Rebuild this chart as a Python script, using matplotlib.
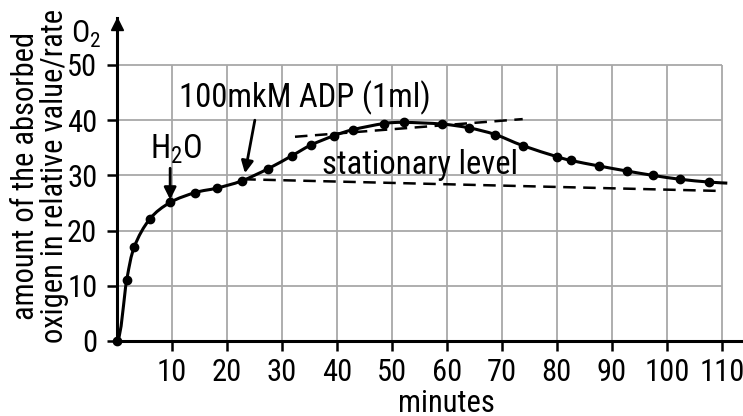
import numpy as np
import matplotlib
matplotlib.use("Agg")
import matplotlib.pyplot as plt
from matplotlib.path import Path
from matplotlib.patches import PathPatch
from matplotlib import font_manager as fm

# ---------------- data ----------------
minutes = [0, 1.8, 3.2, 6.0, 9.7, 14.3, 18.2, 22.7, 27.5, 31.9, 35.3, 39.5, 43.0,
           48.6, 52.3, 59.1, 64.1, 68.8, 73.8, 80.0, 82.6, 87.7, 92.7, 97.5,
           102.4, 107.6]
oxygen = [0, 11.05, 17.1, 22.1, 25.1, 26.9, 27.7, 29.0, 31.2, 33.6, 35.5, 37.2,
          38.3, 39.4, 39.6, 39.3, 38.6, 37.4, 35.4, 33.4, 32.7, 31.7, 30.8, 30.0,
          29.3, 28.8]
curve_end = (111.0, 28.6)           # where the drawn curve stops (no dot)

tangent_x = [32.4, 73.8]             # upper dashed tangent
tangent_y = [37.0, 40.2]
stationary_x = [23.0, 109.0]         # "stationary level" dashed line
stationary_y = [29.3, 27.2]

x_ticks = [10, 20, 30, 40, 50, 60, 70, 80, 90, 100, 110]
y_ticks = [0, 10, 20, 30, 40, 50]

# ---------------- fonts ----------------
names = {f.name for f in fm.fontManager.ttflist}
stretch = "normal"
main_font = None
for cand in ["Liberation Sans Narrow", "Arial Narrow", "Roboto Condensed",
             "Open Sans Condensed", "Noto Sans Condensed"]:
    if cand in names:
        main_font = cand
        break
if main_font is None:
    cond = [f for f in fm.fontManager.ttflist
            if f.name in ("Noto Sans", "Roboto", "Open Sans") and
            str(f.stretch) in ("condensed", "semi-condensed", "extra-condensed", "75", "87")]
    if cond:
        main_font = cond[0].name
        stretch = cond[0].stretch
    else:
        main_font = "Liberation Sans"
narrow = main_font != "Liberation Sans"
plt.rcParams["font.family"] = [main_font, "DejaVu Sans"]
plt.rcParams["font.stretch"] = stretch
plt.rcParams["mathtext.fontset"] = "custom"
plt.rcParams["mathtext.rm"] = main_font
FS = 22 if narrow else 18          # tick labels
FA = 23.5 if narrow else 19        # annotations
FL = 22 if narrow else 17          # y-axis title

W, H = 743, 416
fig = plt.figure(figsize=(W / 100, H / 100), dpi=100)
x0_px, y0_px = 116.8, 341.0
px_x, px_y = 5.5, 5.52
top_px = 18
ax = fig.add_axes([x0_px / W, (H - y0_px) / H, (W - x0_px) / W, (y0_px - top_px) / H])
xmax = (W - x0_px) / px_x
ymax = (y0_px - top_px) / px_y
ax.set_xlim(0, xmax)
ax.set_ylim(0, ymax)

# grid limited to the 0..110 x 0..50 box
grid_c = "#a8a8a8"
ax.vlines(x_ticks, 0, 50, colors=grid_c, lw=1.3, zorder=1)
ax.hlines(y_ticks[1:], 0, 110, colors=grid_c, lw=1.3, zorder=1)

for s in ["top", "right"]:
    ax.spines[s].set_visible(False)
for s in ["left", "bottom"]:
    ax.spines[s].set_linewidth(2.2)
    ax.spines[s].set_zorder(4)

ax.set_xticks(x_ticks)
ax.set_yticks(y_ticks)
ax.tick_params(direction="out", length=7, width=1.8, labelsize=FS, pad=5)
ax.tick_params(axis="y", pad=7)

# arrow head on y axis
ax.plot([0], [ymax - 1.0], marker="^", ms=8, color="k", clip_on=False, zorder=5)

# smooth curve through points (Catmull-Rom converted to cubic Bezier)
px = list(minutes) + [curve_end[0]]
py = list(oxygen) + [curve_end[1]]
P = np.column_stack([px, py]).astype(float)
n = len(P)
verts = [tuple(P[0])]
codes = [Path.MOVETO]
for i in range(n - 1):
    p0 = P[i - 1] if i > 0 else P[i]
    p1, p2 = P[i], P[i + 1]
    p3 = P[i + 2] if i + 2 < n else P[i + 1]
    if i == 0:
        c1 = p1 + np.array([0.8, 0.0])
    else:
        c1 = p1 + (p2 - p0) / 6.0
    c2 = p2 - (p3 - p1) / 6.0
    verts += [tuple(c1), tuple(c2), tuple(p2)]
    codes += [Path.CURVE4] * 3
ax.add_patch(PathPatch(Path(verts, codes), fill=False, lw=2.2, ec="k", zorder=3))
ax.plot(minutes, oxygen, "o", color="k", ms=6, zorder=4, clip_on=False)

# dashed lines
ax.plot(tangent_x, tangent_y, ls=(0, (5, 3)), color="k", lw=1.8, zorder=3)
ax.plot(stationary_x, stationary_y, ls=(0, (5, 3)), color="k", lw=1.8, zorder=3)

# annotations
arrow = dict(arrowstyle="-|>", lw=2.0, color="k", mutation_scale=18, shrinkA=0, shrinkB=0)
ax.annotate("", xy=(9.7, 25.6), xytext=(9.7, 31.3), arrowprops=arrow, zorder=5)
ax.text(6.0, 34.8, r"H$_\mathregular{2}$O", fontsize=FA, ha="left", va="center")
ax.annotate("", xy=(23.3, 30.4), xytext=(25.1, 40.0), arrowprops=arrow, zorder=5)
ax.text(11.3, 44.0, "100mkM ADP (1ml)", fontsize=FA, ha="left", va="center")
ax.text(37.3, 31.9, "stationary level", fontsize=FA, ha="left", va="center")

# axis titles
fig.text(71 / W, 1 - 43 / H, r"O$_\mathregular{2}$", fontsize=FS, ha="left", va="baseline")
fig.text(34 / W, 1 - 176 / H, "amount of the absorbed", fontsize=FL, rotation=90,
         rotation_mode="anchor", ha="center", va="baseline")
fig.text(63 / W, 1 - 176 / H, "oxigen in relative value/rate", fontsize=FL, rotation=90,
         rotation_mode="anchor", ha="center", va="baseline")
fig.text((x0_px + 60 * px_x) / W, 1 - 403 / H, "minutes", fontsize=FS, ha="center", va="center")

fig.savefig("out.png", dpi=100)
